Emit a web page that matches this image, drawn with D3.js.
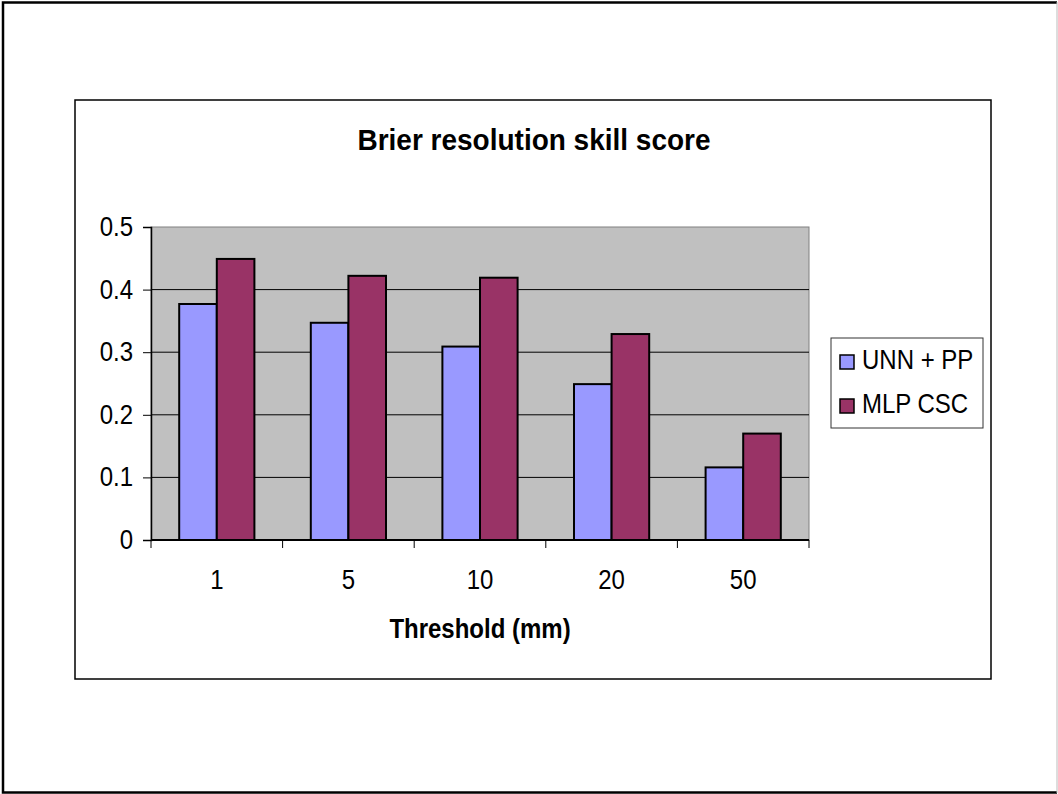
<!DOCTYPE html>
<html>
<head>
<meta charset="utf-8">
<script src="https://cdn.jsdelivr.net/npm/d3@7/dist/d3.min.js"></script>
<style>
  body { margin: 0; background: #fff; }
  svg { display: block; font-family: "Liberation Sans", Arial, sans-serif; }
</style>
</head>
<body>
<svg width="1058" height="794"></svg>
<script>
const categories = ["1", "5", "10", "20", "50"];
const seriesNames = ["UNN + PP", "MLP CSC"];
const unnPP = [0.377, 0.347, 0.309, 0.249, 0.116];
const mlpCSC = [0.449, 0.422, 0.419, 0.329, 0.170];
const yTicks = [0, 0.1, 0.2, 0.3, 0.4, 0.5];
const colors = ["#9999FF", "#993366"];

const seriesValues = [unnPP, mlpCSC];

const svg = d3.select("svg");

// the original text is drawn a bit taller than Liberation Sans, stretch it around its baseline
function stretch(sel, k) {
    sel.each(function () {
        const t = d3.select(this);
        const x = +t.attr("x") || 0, yy = +t.attr("y") || 0;
        t.attr("x", 0).attr("y", 0)
            .attr("transform", `translate(${x},${yy}) scale(1,${k})`);
    });
}

// page frame
svg.append("path")
    .attr("d", "M1057,2.5 H3 V792.5 H1057")
    .attr("fill", "none")
    .attr("stroke", "#000")
    .attr("stroke-width", 2.5);
svg.append("line")
    .attr("x1", 1057).attr("x2", 1057).attr("y1", 2).attr("y2", 793)
    .attr("stroke", "#bbb");

// chart frame
svg.append("rect")
    .attr("x", 75).attr("y", 100)
    .attr("width", 916).attr("height", 579)
    .attr("fill", "#fff")
    .attr("stroke", "#000")
    .attr("stroke-width", 1.5);

const plot = { left: 151, right: 809, top: 227, bottom: 540 };

const x0 = d3.scaleBand()
    .domain(categories)
    .range([plot.left, plot.right])
    .paddingInner(1.5 / 3.5)
    .paddingOuter(0.75 / 3.5);

const x1 = d3.scaleBand()
    .domain(seriesNames)
    .range([0, x0.bandwidth()]);

const y = d3.scaleLinear()
    .domain([0, 0.5])
    .range([plot.bottom, plot.top]);

// plot area
svg.append("rect")
    .attr("x", plot.left).attr("y", plot.top)
    .attr("width", plot.right - plot.left)
    .attr("height", plot.bottom - plot.top)
    .attr("fill", "#C0C0C0")
    .attr("stroke", "#808080");

// gridlines
svg.append("g")
    .selectAll("line")
    .data(yTicks.filter(t => t > 0 && t < 0.5))
    .enter().append("line")
    .attr("x1", plot.left).attr("x2", plot.right)
    .attr("y1", d => y(d)).attr("y2", d => y(d))
    .attr("stroke", "#000")
    .attr("stroke-width", 1);

// bars
const rows = categories.map((c, i) => ({ cat: c, values: seriesNames.map((s, j) => ({ s, j, v: seriesValues[j][i] })) }));

svg.append("g")
    .selectAll("g")
    .data(rows)
    .enter().append("g")
    .attr("transform", d => `translate(${x0(d.cat)},0)`)
    .selectAll("rect")
    .data(d => d.values)
    .enter().append("rect")
    .attr("x", d => x1(d.s))
    .attr("y", d => y(d.v))
    .attr("width", x1.bandwidth())
    .attr("height", d => y(0) - y(d.v))
    .attr("fill", d => colors[d.j])
    .attr("stroke", "#000")
    .attr("stroke-width", 2);

// y axis
const yAxis = svg.append("g")
    .attr("transform", `translate(${plot.left},0)`)
    .call(d3.axisLeft(y).tickValues(yTicks).tickSize(8).tickPadding(10).tickFormat(d => d === 0 ? "0" : d3.format(".1f")(d)));
yAxis.select(".domain").attr("stroke", "#000").attr("stroke-width", 1.5);
yAxis.selectAll(".tick line").attr("stroke", "#000");
yAxis.selectAll("text")
    .attr("font-size", 24)
    .attr("fill", "#000")
    .attr("font-family", "Liberation Sans, Arial, sans-serif")
    .attr("dy", null)
    .attr("y", 8.5)
    .call(stretch, 1.14);

// x axis: ticks between categories
const xAxis = svg.append("g")
    .attr("transform", `translate(0,${plot.bottom})`);
xAxis.append("line")
    .attr("x1", plot.left).attr("x2", plot.right)
    .attr("stroke", "#000").attr("stroke-width", 2);
const boundaries = categories.map(c => x0(c) - x0.step() * x0.paddingOuter());
boundaries.push(plot.right);
xAxis.selectAll(".xtick")
    .data(boundaries)
    .enter().append("line")
    .attr("class", "xtick")
    .attr("x1", d => d).attr("x2", d => d)
    .attr("y1", 0).attr("y2", 8)
    .attr("stroke", "#000");
xAxis.selectAll(".xlabel")
    .data(categories)
    .enter().append("text")
    .attr("class", "xlabel")
    .attr("x", d => x0(d) + x0.bandwidth() / 2)
    .attr("y", 49)
    .attr("text-anchor", "middle")
    .attr("font-size", 24)
    .text(d => d)
    .call(stretch, 1.14);

// titles
svg.append("text")
    .attr("x", 534).attr("y", 150)
    .attr("text-anchor", "middle")
    .attr("font-size", 28)
    .attr("font-weight", "bold")
    .text("Brier resolution skill score")
    .call(stretch, 1.08);

svg.append("text")
    .attr("x", (plot.left + plot.right) / 2).attr("y", 638)
    .attr("text-anchor", "middle")
    .attr("font-size", 24)
    .attr("font-weight", "bold")
    .text("Threshold (mm)")
    .call(stretch, 1.14);

// legend
const legend = svg.append("g").attr("transform", "translate(831,338)");
legend.append("rect")
    .attr("width", 152).attr("height", 90)
    .attr("fill", "#fff")
    .attr("stroke", "#333");
const item = legend.selectAll(".item")
    .data(seriesNames)
    .enter().append("g")
    .attr("class", "item")
    .attr("transform", (d, i) => `translate(0,${i * 44})`);
item.append("rect")
    .attr("x", 9).attr("y", 17)
    .attr("width", 14).attr("height", 14)
    .attr("fill", (d, i) => colors[i])
    .attr("stroke", "#000")
    .attr("stroke-width", 1.5);
item.append("text")
    .attr("x", 31).attr("y", 31)
    .attr("font-size", 24)
    .text(d => d)
    .call(stretch, 1.14);
</script>
</body>
</html>
